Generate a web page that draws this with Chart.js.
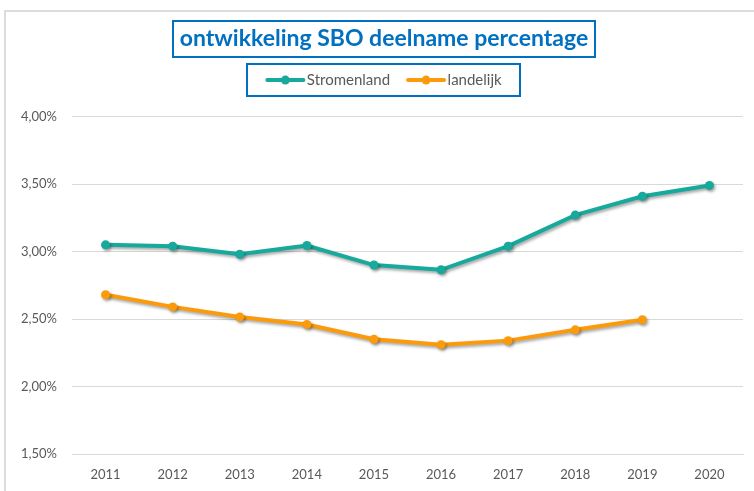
<!DOCTYPE html>
<html>
<head>
<meta charset="utf-8">
<script src="https://cdn.jsdelivr.net/npm/chart.js@4.4.0/dist/chart.umd.min.js"></script>
<style>
  html, body { margin: 0; padding: 0; overflow: hidden; background: #fff; }
  #frame { position: absolute; left: 4px; top: 10px; width: 760px; height: 490px;
           border-top: 2px solid #dcdcdc; border-left: 2px solid #dcdcdc; }
  #frame canvas { display: block; }
</style>
</head>
<body>
<div id="frame"><canvas id="chart" width="748" height="479"></canvas></div>
<script>
// data (percentages)
var years = ['2011', '2012', '2013', '2014', '2015', '2016', '2017', '2018', '2019', '2020'];
var stromenland = [3.05, 3.04, 2.98, 3.045, 2.90, 2.865, 3.04, 3.27, 3.41, 3.49];
var landelijk = [2.68, 2.59, 2.515, 2.46, 2.35, 2.31, 2.34, 2.42, 2.495, null];
var yMin = 1.5, yMax = 4.0, yStep = 0.5;

var titleText = 'ontwikkeling SBO deelname percentage';
var teal = '#17A99B';
var orange = '#FB9B0C';
var blue = '#0070C0';
var titleSize = 23;

function pct(v) {
  return v.toFixed(2).replace('.', ',') + '%';
}

// extra room under the legend
var legendMargin = {
  id: 'legendMargin',
  beforeInit: function(chart) {
    var fitValue = chart.legend.fit;
    chart.legend.fit = function fit() {
      fitValue.bind(chart.legend)();
      this.height += 19;
    };
  }
};

// title and legend sit a bit right of the canvas middle
var shiftHeader = {
  id: 'shiftHeader',
  afterLayout: function(chart) {
    var dx = 9.5;
    [chart.titleBlock, chart.legend].forEach(function(b) {
      b.left += dx;
      b.right += dx;
    });
  }
};

// soft shadow like the excel lines
var lineShadow = {
  id: 'lineShadow',
  beforeDatasetsDraw: function(chart) {
    var ctx = chart.ctx;
    ctx.save();
    ctx.shadowColor = 'rgba(0,0,0,0.35)';
    ctx.shadowBlur = 3;
    ctx.shadowOffsetX = 1.5;
    ctx.shadowOffsetY = 2;
  },
  afterDatasetsDraw: function(chart) {
    chart.ctx.restore();
  }
};

// boxes round title and legend, plus line+dot legend markers
var boxes = {
  id: 'boxes',
  afterDraw: function(chart) {
    var ctx = chart.ctx;
    ctx.save();

    var t = chart.titleBlock;
    ctx.font = 'bold ' + titleSize + 'px Lato';
    var tw = ctx.measureText(titleText).width;
    var cx = (t.left + t.right) / 2;
    var cy = t.top + 13 + titleSize * 1.2 / 2;
    ctx.strokeStyle = blue;
    ctx.lineWidth = 2;
    ctx.strokeRect(Math.round(cx - tw / 2 - 7), Math.round(cy - 18), Math.round(tw + 14), 36);

    var hb = chart.legend.legendHitBoxes;
    var left = hb[0].left, right = 0;
    for (var i = 0; i < hb.length; i++) {
      left = Math.min(left, hb[i].left);
      right = Math.max(right, hb[i].left + hb[i].width);
    }
    var ly = hb[0].top + hb[0].height / 2;
    ctx.strokeRect(Math.round(left - 19), Math.round(ly - 16), Math.round(right - left + 38), 32);

    var colors = [teal, orange];
    for (var j = 0; j < hb.length; j++) {
      var y = hb[j].top + hb[j].height / 2;
      var x0 = hb[j].left;
      ctx.strokeStyle = colors[j];
      ctx.lineWidth = 4;
      ctx.lineCap = 'round';
      ctx.beginPath();
      ctx.moveTo(x0 + 1, y);
      ctx.lineTo(x0 + 37, y);
      ctx.stroke();
      ctx.fillStyle = colors[j];
      ctx.beginPath();
      ctx.arc(x0 + 19, y, 4.5, 0, Math.PI * 2);
      ctx.fill();
    }
    ctx.restore();
  }
};

var ctx = document.getElementById('chart').getContext('2d');
new Chart(ctx, {
  type: 'line',
  data: {
    labels: years,
    datasets: [
      {
        label: 'Stromenland',
        data: stromenland,
        borderColor: teal,
        backgroundColor: teal,
        borderWidth: 4,
        pointRadius: 4.5,
        pointBorderWidth: 0,
        pointBackgroundColor: teal,
        tension: 0
      },
      {
        label: 'landelijk',
        data: landelijk,
        borderColor: orange,
        backgroundColor: orange,
        borderWidth: 4,
        pointRadius: 4.5,
        pointBorderWidth: 0,
        pointBackgroundColor: orange,
        tension: 0
      }
    ]
  },
  options: {
    responsive: false,
    animation: false,
    layout: { padding: { left: 0, right: 11, top: 0, bottom: 0 } },
    plugins: {
      title: {
        display: true,
        text: titleText,
        color: blue,
        font: { family: 'Lato', size: titleSize, weight: 'bold' },
        padding: { top: 13, bottom: 3 }
      },
      legend: {
        display: true,
        labels: {
          color: '#595959',
          font: { family: 'Lato', size: 15 },
          boxWidth: 33,
          boxHeight: 4,
          padding: 17,
          generateLabels: function(chart) {
            var items = Chart.defaults.plugins.legend.labels.generateLabels(chart);
            items.forEach(function(it) {
              it.fillStyle = 'rgba(0,0,0,0)';
              it.strokeStyle = 'rgba(0,0,0,0)';
              it.lineWidth = 0;
            });
            return items;
          }
        }
      },
      tooltip: { enabled: false }
    },
    scales: {
      x: {
        offset: true,
        grid: { display: false },
        border: { color: '#d9d9d9', width: 1 },
        ticks: { color: '#595959', font: { family: 'Lato', size: 13 }, padding: 5 },
        afterFit: function(axis) { axis.height = 37; }
      },
      y: {
        min: yMin,
        max: yMax,
        grid: { color: '#d9d9d9', drawTicks: false },
        border: { display: false },
        ticks: {
          stepSize: yStep,
          color: '#595959',
          font: { family: 'Lato', size: 13 },
          padding: 15,
          callback: function(v) { return pct(v); }
        },
        afterFit: function(axis) { axis.width = 66; }
      }
    }
  },
  plugins: [legendMargin, shiftHeader, lineShadow, boxes]
});
</script>
</body>
</html>
